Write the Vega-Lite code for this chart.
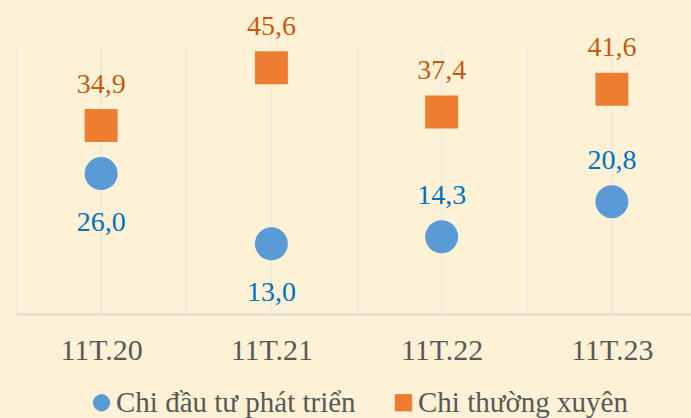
{
  "$schema": "https://vega.github.io/schema/vega-lite/v6.json",
  "width": 675,
  "height": 270,
  "autosize": {"type": "none"},
  "padding": {"left": 16, "top": 44, "right": 0, "bottom": 104},
  "background": "#FEF2D6",
  "data": {
    "values": [
      {"period": "11T.20", "series": "Chi đầu tư phát triển", "value": 26.0},
      {"period": "11T.21", "series": "Chi đầu tư phát triển", "value": 13.0},
      {"period": "11T.22", "series": "Chi đầu tư phát triển", "value": 14.3},
      {"period": "11T.23", "series": "Chi đầu tư phát triển", "value": 20.8},
      {"period": "11T.20", "series": "Chi thường xuyên", "value": 34.9},
      {"period": "11T.21", "series": "Chi thường xuyên", "value": 45.6},
      {"period": "11T.22", "series": "Chi thường xuyên", "value": 37.4},
      {"period": "11T.23", "series": "Chi thường xuyên", "value": 41.6}
    ]
  },
  "encoding": {
    "x": {
      "field": "period",
      "type": "nominal",
      "title": null,
      "scale": {"type": "band", "range": [0, 681], "paddingInner": 0, "paddingOuter": 0},
      "axis": {
        "labelAngle": 0,
        "labelFont": "Liberation Serif",
        "labelFontSize": 30,
        "labelColor": "#595959",
        "labelBaseline": "alphabetic",
        "labelPadding": 45,
        "ticks": false,
        "tickSize": 0,
        "tickBand": "extent",
        "grid": true,
        "gridColor": "#ECE9E4",
        "gridWidth": 1.5,
        "domainColor": "#D9D9D9",
        "domainWidth": 2
      }
    }
  },
  "layer": [
    {
      "mark": {"type": "rule", "color": "#ECE9E4", "strokeWidth": 1.5},
      "encoding": {}
    },
    {
      "mark": {"type": "point", "filled": true, "opacity": 1, "size": 1089, "strokeWidth": 0},
      "encoding": {
        "y": {"field": "value", "type": "quantitative", "scale": {"domain": [0, 50]}, "axis": null},
        "shape": {
          "field": "series",
          "type": "nominal",
          "scale": {"domain": ["Chi đầu tư phát triển", "Chi thường xuyên"], "range": ["circle", "square"]},
          "legend": {
            "title": null,
            "orient": "none",
            "direction": "horizontal",
            "legendX": 71,
            "legendY": 344,
            "labelFont": "Liberation Serif",
            "labelFontSize": 29,
            "labelLimit": 0,
            "labelColor": "#595959",
            "labelOffset": 0,
            "symbolSize": 300,
            "symbolStrokeWidth": 0,
            "columnPadding": 33,
            "padding": 0
          }
        },
        "color": {
          "field": "series",
          "type": "nominal",
          "scale": {"domain": ["Chi đầu tư phát triển", "Chi thường xuyên"], "range": ["#5B9BD5", "#ED7D31"]},
          "legend": {
            "title": null,
            "orient": "none",
            "direction": "horizontal",
            "legendX": 71,
            "legendY": 344,
            "labelFont": "Liberation Serif",
            "labelFontSize": 29,
            "labelLimit": 0,
            "labelColor": "#595959",
            "labelOffset": 0,
            "symbolSize": 300,
            "symbolStrokeWidth": 0,
            "columnPadding": 33,
            "padding": 0
          }
        }
      }
    },
    {
      "transform": [
        {"filter": "datum.series == 'Chi thường xuyên' || datum.period == '11T.22' || datum.period == '11T.23'"}
      ],
      "mark": {"type": "text", "font": "Liberation Serif", "fontSize": 28, "baseline": "alphabetic", "align": "center", "dy": -33},
      "encoding": {
        "y": {"field": "value", "type": "quantitative", "scale": {"domain": [0, 50]}, "axis": null},
        "text": {"field": "value", "type": "quantitative", "format": ".1f"},
        "color": {"condition": {"test": "datum.series == 'Chi thường xuyên'", "value": "#C55A11"}, "value": "#0070C0"}
      }
    },
    {
      "transform": [
        {"filter": "datum.series == 'Chi đầu tư phát triển' && (datum.period == '11T.20' || datum.period == '11T.21')"}
      ],
      "mark": {"type": "text", "font": "Liberation Serif", "fontSize": 28, "baseline": "alphabetic", "align": "center", "dy": 57, "color": "#0070C0"},
      "encoding": {
        "y": {"field": "value", "type": "quantitative", "scale": {"domain": [0, 50]}, "axis": null},
        "text": {"field": "value", "type": "quantitative", "format": ".1f"}
      }
    }
  ],
  "config": {
    "view": {"stroke": null},
    "locale": {
      "number": {"decimal": ",", "thousands": ".", "grouping": [3], "currency": ["", ""]}
    }
  }
}
